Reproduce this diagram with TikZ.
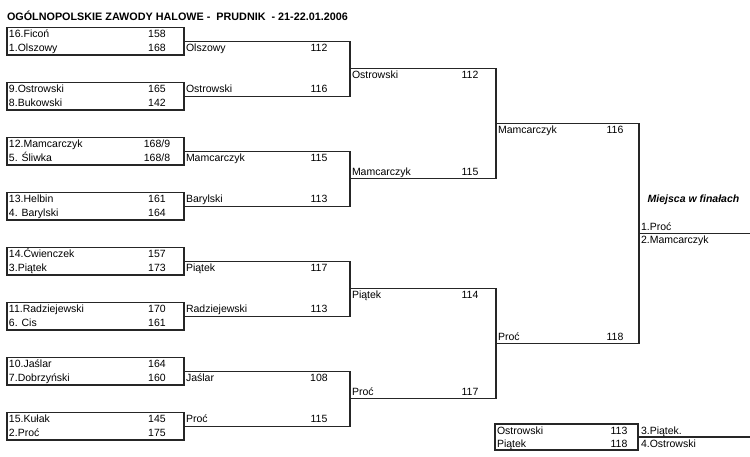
\documentclass[tikz,border=0pt]{standalone}
\usepackage{fontspec}
\setmainfont{Liberation Sans}

\begin{document}
\begin{tikzpicture}[x=1pt,y=-1pt,
  every node/.style={inner sep=0pt,outer sep=0pt,font=\fontsize{10.5}{12}\selectfont},
  lin/.style={line width=1.2pt,draw=black!85},
  matchbox/.style={lin,rectangle,minimum height=27.5pt},
  plname/.style={anchor=base west},
  plscore/.style={anchor=base}]
\def\rh{13.75}
\def\yo{27.5}
\useasboundingbox (0,0) rectangle (750,456);

\node[anchor=base west,font=\bfseries\fontsize{10.8}{13}\selectfont] (title) at (7,20.5)
  {OGÓLNOPOLSKIE ZAWODY HALOWE -\ \ PRUDNIK\ \ - 21-22.01.2006};

% runda 1
\foreach \na/\sa/\nb/\sb [count=\i] in {16.Ficoń/158/1.Olszowy/168,
    9.Ostrowski/165/8.Bukowski/142,
    12.Mamcarczyk/{168/9}/5. Śliwka/{168/8},
    13.Helbin/161/4. Barylski/164,
    14.Ćwienczek/157/3.Piątek/173,
    11.Radziejewski/170/6. Cis/161,
    10.Jaślar/164/7.Dobrzyński/160,
    15.Kułak/145/2.Proć/175}{
  \pgfmathsetmacro{\yt}{\yo+4*(\i-1)*\rh}
  \node[matchbox,minimum width=177pt] (b\i) at (95.5,\yt+\rh) {};
  \node[plname] (na\i) at (9,\yt+10) {\na};
  \node[plscore] (sa\i) at (157,\yt+10) {\sa};
  \node[plname] (nb\i) at (9,\yt+\rh+10) {\nb};
  \node[plscore] (sb\i) at (157,\yt+\rh+10) {\sb};
}

% runda 2
\foreach \wa/\sa/\wb/\sb [count=\j] in {Olszowy/112/Ostrowski/116,
    Mamcarczyk/115/Barylski/113,
    Piątek/117/Radziejewski/113,
    Jaślar/108/Proć/115}{
  \pgfmathsetmacro{\yt}{\yo+8*(\j-1)*\rh}
  \pgfmathtruncatemacro{\ka}{2*\j-1}
  \pgfmathtruncatemacro{\kb}{2*\j}
  \coordinate (m\j) at (350,\yt+3*\rh);
  \draw[lin] (b\ka.east) -| (m\j) |- (b\kb.east);
  \node[plname] (ra\j) at (186,\yt+\rh+10) {\wa};
  \node[plscore] (rsa\j) at (319,\yt+\rh+10) {\sa};
  \node[plname] (rb\j) at (186,\yt+4*\rh+10) {\wb};
  \node[plscore] (rsb\j) at (319,\yt+4*\rh+10) {\sb};
}

% runda 3
\foreach \wa/\sa/\wb/\sb [count=\j] in {Ostrowski/112/Mamcarczyk/115,
    Piątek/114/Proć/117}{
  \pgfmathsetmacro{\yt}{\yo+16*(\j-1)*\rh}
  \pgfmathtruncatemacro{\ka}{2*\j-1}
  \pgfmathtruncatemacro{\kb}{2*\j}
  \coordinate (q\j) at (496,\yt+7*\rh);
  \draw[lin] (m\ka) -| (q\j) |- (m\kb);
  \node[plname] (pa\j) at (352,\yt+3*\rh+10) {\wa};
  \node[plscore] (psa\j) at (470,\yt+3*\rh+10) {\sa};
  \node[plname] (pb\j) at (352,\yt+10*\rh+10) {\wb};
  \node[plscore] (psb\j) at (470,\yt+10*\rh+10) {\sb};
}

% polfinaly
\coordinate (f) at (639,\yo+15*\rh);
\coordinate (fe) at (750,\yo+15*\rh);
\draw[lin] (q1) -| (f) |- (q2);
\node[plname] (sfa) at (498,\yo+7*\rh+10) {Mamcarczyk};
\node[plscore] (ssa) at (615,\yo+7*\rh+10) {116};
\node[plname] (sfb) at (498,\yo+22*\rh+10) {Proć};
\node[plscore] (ssb) at (615,\yo+22*\rh+10) {118};

% final
\draw[lin] (f) -- (fe);
\node[anchor=base,font=\bfseries\itshape\fontsize{10.5}{12}\selectfont] (miejsca)
  at (693.5,\yo+12*\rh+10) {Miejsca w finałach};
\node[plname] (pl1) at (641,\yo+14*\rh+10) {1.Proć};
\node[plname] (pl2) at (641,\yo+15*\rh+10) {2.Mamcarczyk};

% mecz o 3. miejsce
\node[matchbox,minimum width=143pt,minimum height=26pt] (m3) at (566.5,437) {};
\coordinate (m3e) at (750,437);
\draw[lin] (m3.east) -- (m3e);
\node[plname] (m3a) at (497,434) {Ostrowski};
\node[plscore] (m3sa) at (619,434) {113};
\node[plname] (m3b) at (497,447) {Piątek};
\node[plscore] (m3sb) at (619,447) {118};
\node[plname] (pl3) at (641,434) {3.Piątek.};
\node[plname] (pl4) at (641,447) {4.Ostrowski};
\end{tikzpicture}
\end{document}
